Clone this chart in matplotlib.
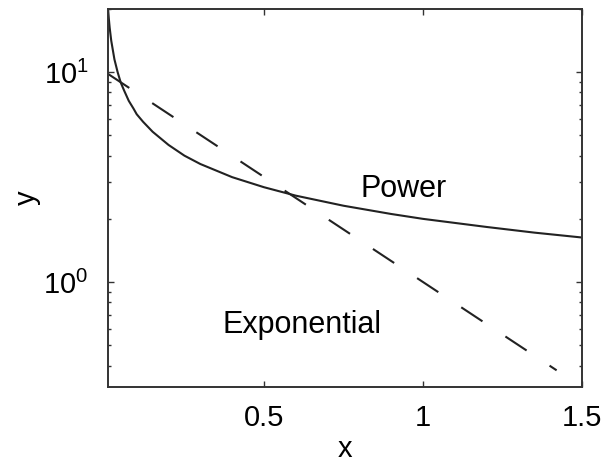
import numpy as np
import matplotlib.pyplot as plt
from matplotlib.ticker import LogLocator

plt.rcParams['font.family'] = ['Liberation Sans', 'DejaVu Sans']
plt.rcParams['mathtext.default'] = 'regular'

# Power curve, values
power_x = [0.01, 0.0125, 0.015, 0.02, 0.03, 0.04, 0.05, 0.06, 0.075, 0.09, 0.1,
           0.12, 0.15, 0.2, 0.25, 0.3, 0.4, 0.5, 0.6, 0.75, 0.9, 1.0, 1.2,
           1.35, 1.5]
power_y = [20.0, 17.9, 16.3, 14.1, 11.5, 10.0, 8.9, 8.2, 7.3, 6.7, 6.3,
           5.8, 5.2, 4.5, 4.0, 3.65, 3.16, 2.83, 2.58, 2.31, 2.11, 2.0, 1.83,
           1.72, 1.63]

# Exponential line (straight on semilog axes)
exp_x = [0.01, 1.42]
exp_y = [9.8, 0.38]

fig = plt.figure(figsize=(6.14, 4.67), dpi=100)
ax = fig.add_axes([0.176, 0.171, 0.772, 0.810])

ax.plot(power_x, power_y, color='#222222', lw=1.5)
line, = ax.plot(exp_x, exp_y, color='#222222', lw=1.5, ls='--')
line.set_dashes([12.2, 13.2])

ax.set_yscale('log')
ax.set_xlim(0.01, 1.5)
ax.set_ylim(0.316, 20)
ax.set_xticks([0.5, 1, 1.5])
ax.set_xticklabels(['0.5', '1', '1.5'])
ax.yaxis.set_major_locator(LogLocator(base=10, numticks=10))
ax.yaxis.set_minor_locator(LogLocator(base=10, subs=np.arange(2, 10), numticks=10))

ax.tick_params(which='both', direction='in', top=True, right=True,
               labelsize=21, color='#333333')
ax.tick_params(axis='x', pad=12)
ax.tick_params(axis='y', pad=14)
ax.tick_params(which='major', length=4, width=1)
ax.tick_params(which='minor', length=2.5, width=1)
for s in ax.spines.values():
    s.set_linewidth(1.4)
    s.set_color('#333333')

ax.set_xlabel('x', fontsize=21, labelpad=2)
ax.set_ylabel('y', fontsize=21, labelpad=2)

ax.text(0.94, 2.54, 'Power', fontsize=22, ha='center', va='baseline')
ax.text(0.62, 0.571, 'Exponential', fontsize=22, ha='center', va='baseline')

fig.savefig('out.png', dpi=100)
